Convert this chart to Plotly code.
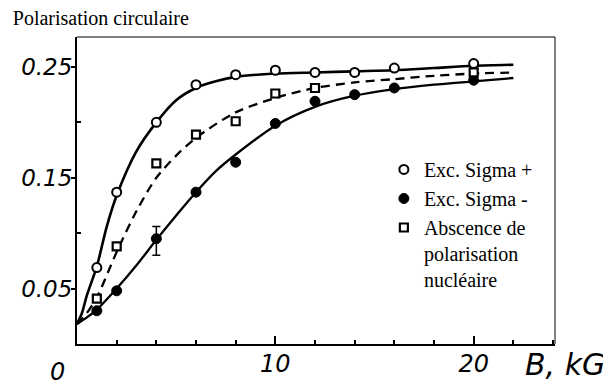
import plotly.graph_objects as go

# ---- data ----
B_points = [1, 2, 4, 6, 8, 10, 12, 14, 16, 20]
sigma_plus = [0.069, 0.137, 0.200, 0.234, 0.243, 0.247, 0.245, 0.245, 0.249, 0.253]
sigma_minus = [0.030, 0.048, 0.095, 0.137, 0.164, 0.199, 0.219, 0.225, 0.231, 0.238]
sigma_minus_err_plus = [None, None, 0.011, None, None, None, None, None, None, None]
sigma_minus_err_minus = [None, None, 0.015, None, None, None, None, None, None, None]

B_squares = [1, 2, 4, 6, 8, 10, 12, 20]
no_nuclear = [0.041, 0.088, 0.163, 0.189, 0.201, 0.226, 0.231, 0.245]

# fitted curves (as drawn)
curve_plus_x = [0, 0.25, 0.5, 1, 1.5, 2, 3, 4, 5, 6, 7, 8, 10, 12, 14, 16, 18, 20, 22]
curve_plus_y = [0.018, 0.028, 0.044, 0.070, 0.106, 0.134, 0.174, 0.200, 0.220, 0.231,
                0.237, 0.241, 0.244, 0.245, 0.246, 0.247, 0.249, 0.251, 0.252]
curve_minus_x = [0, 0.5, 1, 2, 3, 4, 5, 6, 7, 8, 10, 12, 14, 16, 18, 20, 22]
curve_minus_y = [0.018, 0.024, 0.031, 0.050, 0.071, 0.094, 0.116, 0.137, 0.156, 0.171,
                 0.197, 0.214, 0.224, 0.230, 0.234, 0.237, 0.240]
curve_none_x = [0, 0.5, 1, 2, 3, 4, 5, 6, 8, 10, 12, 14, 16, 18, 20, 22]
curve_none_y = [0.018, 0.028, 0.042, 0.083, 0.120, 0.150, 0.170, 0.186, 0.209, 0.222,
                0.231, 0.236, 0.239, 0.242, 0.244, 0.245]

y_tickvals = [0.05, 0.15, 0.25]
y_ticktext = ["0.05", "0.15", "0.25"]
y_minor = [0.10, 0.20]
x_tickvals = [10, 20]
x_ticktext = ["10", "20"]

fig = go.Figure()

fig.add_trace(go.Scatter(x=curve_plus_x, y=curve_plus_y, mode="lines",
                         line=dict(color="black", width=2.6, shape="spline", smoothing=0.8),
                         showlegend=False, hoverinfo="skip"))
fig.add_trace(go.Scatter(x=curve_none_x, y=curve_none_y, mode="lines",
                         line=dict(color="black", width=2.3, dash="9px,6px", shape="spline", smoothing=0.8),
                         showlegend=False, hoverinfo="skip"))
fig.add_trace(go.Scatter(x=curve_minus_x, y=curve_minus_y, mode="lines",
                         line=dict(color="black", width=2.3, shape="spline", smoothing=0.8),
                         showlegend=False, hoverinfo="skip"))

fig.add_trace(go.Scatter(x=B_points, y=sigma_plus, mode="markers", name="Exc. Sigma +",
                         marker=dict(symbol="circle", size=9, color="white",
                                     line=dict(color="black", width=2))))
fig.add_trace(go.Scatter(x=B_points, y=sigma_minus, mode="markers", name="Exc. Sigma -",
                         marker=dict(symbol="circle", size=10, color="black",
                                     line=dict(color="black", width=1)),
                         error_y=dict(type="data", symmetric=False, array=sigma_minus_err_plus,
                                      arrayminus=sigma_minus_err_minus, color="black",
                                      thickness=1.5, width=4)))
fig.add_trace(go.Scatter(x=B_squares, y=no_nuclear, mode="markers",
                         name="Abscence de<br>polarisation<br>nucléaire",
                         marker=dict(symbol="square", size=8, color="white",
                                     line=dict(color="black", width=2.2))))

# thin top/right frame
fig.add_shape(type="line", xref="paper", yref="paper", x0=0, x1=1, y0=1, y1=1,
              line=dict(color="black", width=1))
fig.add_shape(type="line", xref="paper", yref="paper", x0=1, x1=1, y0=0, y1=1,
              line=dict(color="black", width=1))

fig.add_annotation(text="0", xref="paper", yref="paper", x=-0.04, y=0, yshift=-12,
                   xanchor="center", yanchor="top", showarrow=False,
                   font=dict(family="DejaVu Sans", size=24, color="black", style="italic"))
fig.add_annotation(text="B, kG", xref="paper", yref="paper", x=1.109, y=0, yshift=-1,
                   xanchor="right", yanchor="top", showarrow=False,
                   font=dict(family="DejaVu Sans", size=30, color="black", style="italic"))

fig.update_xaxes(range=[0, 24.1], showline=True, linecolor="black", linewidth=2,
                 tickmode="array", tickvals=x_tickvals, ticktext=x_ticktext,
                 ticks="inside", ticklen=8, tickwidth=2, tickcolor="black",
                 ticklabelstandoff=-3,
                 minor=dict(dtick=2, tick0=0, ticks="inside", ticklen=4, tickwidth=1.5, tickcolor="black"),
                 tickfont=dict(family="DejaVu Sans", size=24, color="black", style="italic"),
                 showgrid=False, zeroline=False)
fig.update_yaxes(range=[0, 0.277], showline=True, linecolor="black", linewidth=2,
                 tickmode="array", tickvals=y_tickvals, ticktext=y_ticktext,
                 ticks="outside", ticklen=4, tickwidth=1.5, tickcolor="black",
                 ticklabelstandoff=-6,
                 minor=dict(tickvals=y_minor, ticks="inside", ticklen=4, tickwidth=1.5, tickcolor="black"),
                 tickfont=dict(family="DejaVu Sans", size=23, color="black", style="italic"),
                 showgrid=False, zeroline=False)

fig.update_layout(
    width=603, height=384,
    margin=dict(l=69, r=56, t=29, b=48),
    paper_bgcolor="white", plot_bgcolor="white",
    title=dict(text="Polarisation circulaire", x=0.008, xanchor="left", xref="container",
               y=0.992, yanchor="top", pad=dict(t=0, l=0),
               font=dict(family="Liberation Serif", size=20, color="black")),
    legend=dict(x=0.642, y=0.632, xanchor="left", yanchor="top", valign="top",
                bgcolor="rgba(0,0,0,0)", borderwidth=0, itemwidth=30,
                font=dict(family="Liberation Serif", size=20, color="black"),
                tracegroupgap=0),
    showlegend=True,
)

fig.write_html("out.html")
